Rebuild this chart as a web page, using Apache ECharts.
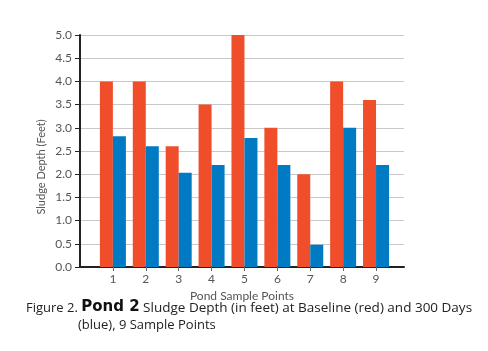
<!DOCTYPE html>
<html>
<head>
    <meta charset="UTF-8">
    <title>Pond 2 Sludge Depth</title>
    <script src="https://cdn.jsdelivr.net/npm/echarts@6/dist/echarts.min.js"></script>
    <style>
        html, body { margin: 0; padding: 0; background: #fff; }
        #chart { width: 488px; height: 351px; }
    </style>
</head>
<body>
<div id="chart"></div>
<script>
    // sample points and depths (feet)
    var samplePoints = [1, 2, 3, 4, 5, 6, 7, 8, 9];
    var baseline = [4.0, 4.0, 2.6, 3.5, 5.0, 3.0, 2.0, 4.0, 3.6];
    var after300 = [2.82, 2.6, 2.03, 2.2, 2.78, 2.2, 0.48, 3.0, 2.2];

    var FONT = 'Lato, "Open Sans", sans-serif';
    var CAP_FONT = '"Open Sans", Lato, sans-serif';
    var chart = echarts.init(document.getElementById('chart'));

    function pairs(vals) {
        return samplePoints.map(function (p, i) { return [p, vals[i]]; });
    }

    var option = {
        animation: false,
        grid: { left: 80, top: 35, right: 84, bottom: 84 },
        xAxis: {
            type: 'value',
            min: 0,
            max: 9.85,
            interval: 1,
            axisLine: { show: true, lineStyle: { color: '#222', width: 2 } },
            axisTick: { show: true, length: 4, lineStyle: { color: '#666' } },
            splitLine: { show: false },
            axisLabel: {
                color: '#555', fontSize: 12, fontFamily: FONT, margin: 6,
                showMinLabel: false, showMaxLabel: false,
                formatter: function (v) { return (v >= 1 && v <= 9) ? String(v) : ''; }
            },
            name: 'Pond Sample Points',
            nameLocation: 'middle',
            nameGap: 21,
            nameTextStyle: { color: '#555', fontSize: 12, fontFamily: FONT }
        },
        yAxis: {
            type: 'value',
            min: 0,
            max: 5,
            interval: 0.5,
            axisLine: { show: true, lineStyle: { color: '#222', width: 2 } },
            axisTick: { show: true, length: 5, lineStyle: { color: '#222' } },
            splitLine: { show: true, lineStyle: { color: '#c8c8c8' } },
            axisLabel: {
                color: '#555', fontSize: 12, fontFamily: FONT, margin: 8,
                formatter: function (v) { return v.toFixed(1); }
            }
        },
        graphic: [
            {
                type: 'text',
                x: 41, y: 167,
                rotation: Math.PI / 2,
                style: {
                    text: 'Sludge Depth (Feet)', fill: '#555',
                    font: '11px ' + FONT, align: 'center', verticalAlign: 'middle',
                    x: 0, y: 0
                }
            },
            {
                type: 'text', x: 26, y: 300,
                style: {
                    text: '{n|Figure 2. }{b|Pond 2}{m| Sludge Depth (in feet) at Baseline (red) and 300 Days}',
                    rich: {
                        n: { fontSize: 13, fontFamily: CAP_FONT, fill: '#222', verticalAlign: 'bottom' },
                        m: { fontSize: 13.5, fontFamily: CAP_FONT, fill: '#222', verticalAlign: 'bottom' },
                        b: { fontSize: 15, fontWeight: 'bold', fontFamily: '"DejaVu Sans", sans-serif', fill: '#111', verticalAlign: 'bottom' }
                    }
                }
            },
            {
                type: 'text', x: 78, y: 319,
                style: { text: '(blue), 9 Sample Points', font: '13px ' + CAP_FONT, fill: '#222' }
            }
        ],
        series: [
            {
                name: 'Baseline',
                type: 'bar',
                barWidth: 13,
                barGap: '0%',
                itemStyle: { color: '#F04E2B' },
                data: pairs(baseline)
            },
            {
                name: '300 Days',
                type: 'bar',
                barWidth: 13,
                barGap: '0%',
                itemStyle: { color: '#007AC3' },
                data: pairs(after300)
            }
        ]
    };

    chart.setOption(option);
</script>
</body>
</html>
